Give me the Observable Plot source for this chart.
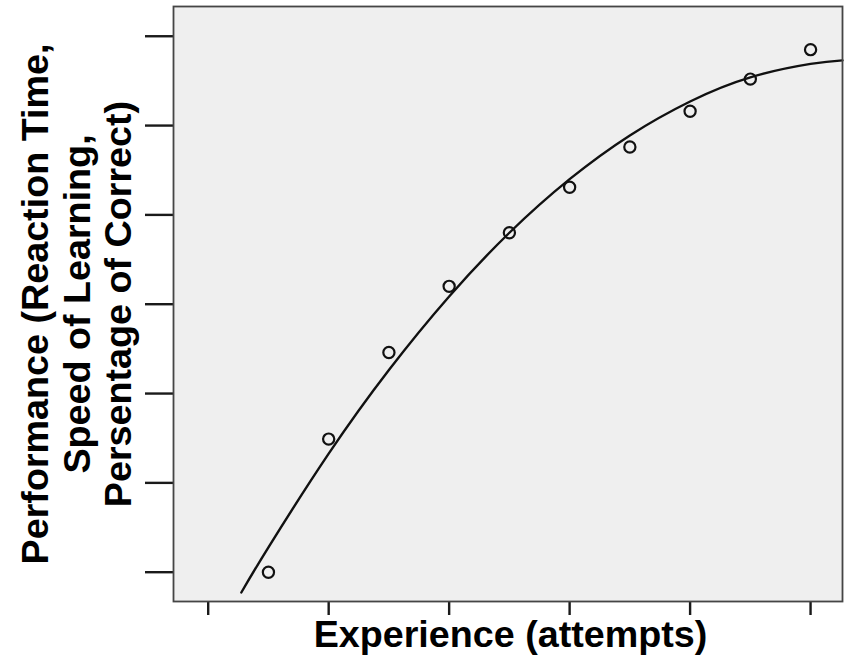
<!DOCTYPE html>
<html>
<head>
<meta charset="utf-8">
<script src="https://cdn.jsdelivr.net/npm/d3@7"></script>
<script src="https://cdn.jsdelivr.net/npm/@observablehq/plot@0.6"></script>
<style>
  html, body { margin: 0; padding: 0; background: #ffffff; }
  #chart svg { display: block; }
</style>
</head>
<body>
<div id="chart"></div>
<script>
// Observed points (attempt index, performance)
const attempts = [1, 2, 3, 4, 5, 6, 7, 8, 9, 10];
const performance = [0.00, 1.49, 2.46, 3.20, 3.80, 4.31, 4.76, 5.16, 5.52, 5.85];

// Fitted curve
const fitX = [0.55, 1, 2, 3, 4, 5, 6, 7, 8, 9, 10, 10.53];
const fitY = [-0.227, 0.278, 1.327, 2.264, 3.087, 3.80, 4.40, 4.89, 5.27, 5.54, 5.69, 5.73];

// Tick positions (unlabelled in the original)
const xTicks = [0, 2, 4, 6, 8, 10];
const yTicks = [0, 1, 2, 3, 4, 5, 6];

const xLabel = "Experience (attempts)";
const yLabel = "Performance (Reaction Time,\nSpeed of Learning,\nPersentage of Correct)";

const points = attempts.map((a, i) => ({x: a, y: performance[i]}));
const fit = fitX.map((a, i) => ({x: a, y: fitY[i]}));

const font = "'Liberation Sans', Arial, Helvetica, sans-serif";

const chart = Plot.plot({
  width: 845,
  height: 661,
  marginLeft: 173,
  marginRight: 3,
  marginTop: 6,
  marginBottom: 60,
  style: {fontFamily: font, background: "#ffffff"},
  x: {domain: [-0.576, 10.53]},
  y: {domain: [-0.328, 6.333]},
  marks: [
    Plot.frame({fill: "#efefef", stroke: "none"}),
    Plot.axisY({ticks: yTicks, tickSize: 28, tickFormat: () => "", stroke: "#1a1a1a", strokeWidth: 2.4, label: null}),
    Plot.axisX({ticks: xTicks, tickSize: 14, tickFormat: () => "", stroke: "#1a1a1a", strokeWidth: 2.4, label: null}),
    Plot.line(fit, {x: "x", y: "y", curve: "natural", stroke: "#111111", strokeWidth: 2.4}),
    Plot.dot(points, {x: "x", y: "y", r: 5.6, stroke: "#111111", strokeWidth: 2.2, fill: "none"}),
    Plot.frame({stroke: "#454545", strokeWidth: 1.8}),
    Plot.text([xLabel], {frameAnchor: "bottom", dx: 2.5, dy: 33, lineAnchor: "middle", textAnchor: "middle",
      fontSize: 37.7, fontWeight: "bold", fill: "#000000"}),
    Plot.text([yLabel], {frameAnchor: "left", dx: -97, rotate: -90, lineAnchor: "middle", textAnchor: "middle",
      lineHeight: 1.1, fontSize: 37.7, fontWeight: "bold", fill: "#000000"})
  ]
});

// make sure the tick strokes are as heavy as in the original
d3.select(chart).selectAll('g[aria-label="y-axis tick"], g[aria-label="x-axis tick"]')
  .attr("stroke-width", 2.4)
  .selectAll("path").attr("stroke-width", 2.4);

document.getElementById("chart").appendChild(chart);
</script>
</body>
</html>
